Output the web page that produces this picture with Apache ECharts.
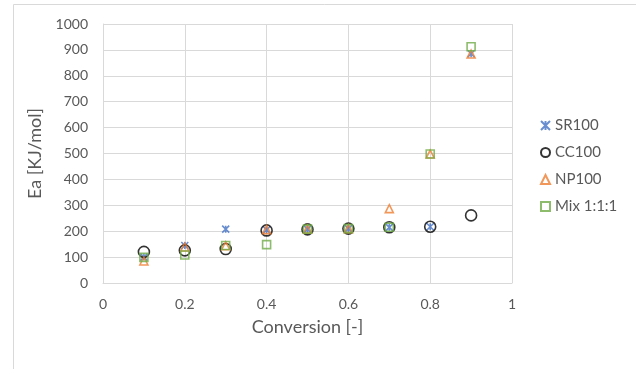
<!DOCTYPE html>
<html><head><meta charset="utf-8">
<script src="https://cdn.jsdelivr.net/npm/echarts@6/dist/echarts.min.js"></script>
<style>html,body{margin:0;padding:0;background:#fff}#c{width:636px;height:369px}</style>
</head><body><div id="c"></div>
<script>
const conversion = [0.1, 0.2, 0.3, 0.4, 0.5, 0.6, 0.7, 0.8, 0.9];
const sr100 = [100, 145, 208, 205, 208, 210, 215, 217, 885];
const cc100 = [120, 126, 131, 203, 207, 210, 215, 217, 261];
const np100 = [85, 139, 144, 206, 208, 210, 287, 498, 884];
const mix111 = [99, 108, 145, 148, 208, 210, 215, 498, 912];
const seriesNames = ['SR100', 'CC100', 'NP100', 'Mix 1:1:1'];
const xTicks = [0, 0.2, 0.4, 0.6, 0.8, 1];
const yTicks = [0, 100, 200, 300, 400, 500, 600, 700, 800, 900, 1000];

const pair = arr => conversion.map((x, i) => [x, arr[i]]);
const txt = '#595959', grid = '#d9d9d9';
const font = 'Lato, "Open Sans", sans-serif';
const chart = echarts.init(document.getElementById('c'));
chart.setOption({
  animation: false,
  textStyle: { fontFamily: font },
  graphic: [
    { type: 'line', shape: { x1: 13.5, y1: 4.5, x2: 636, y2: 4.5 }, style: { stroke: grid, lineWidth: 1 } },
    { type: 'line', shape: { x1: 13.5, y1: 4.5, x2: 13.5, y2: 369 }, style: { stroke: grid, lineWidth: 1 } }
  ],
  grid: { left: 103, right: 124, top: 24, bottom: 86 },
  legend: {
    orient: 'vertical', left: 535, top: 113, itemGap: 12, itemWidth: 9, itemHeight: 9,
    data: seriesNames,
    textStyle: { color: txt, fontSize: 15, fontFamily: font }
  },
  xAxis: {
    type: 'value', min: 0, max: 1, interval: 0.2,
    name: 'Conversion [-]', nameLocation: 'middle', nameGap: 35,
    nameTextStyle: { color: txt, fontSize: 18, fontFamily: font },
    axisLine: { show: true, lineStyle: { color: grid } },
    axisTick: { show: false },
    splitLine: { show: true, lineStyle: { color: grid } },
    axisLabel: { color: txt, fontSize: 14, margin: 14, formatter: v => String(Math.round(v * 10) / 10) }
  },
  yAxis: {
    type: 'value', min: 0, max: 1000, interval: 100,
    name: 'Ea [KJ/mol]', nameLocation: 'middle', nameGap: 55,
    nameTextStyle: { color: txt, fontSize: 18, fontFamily: font },
    axisLine: { show: true, lineStyle: { color: grid } },
    axisTick: { show: false },
    splitLine: { show: true, lineStyle: { color: grid } },
    axisLabel: { color: txt, fontSize: 14, margin: 15, formatter: v => String(v) }
  },
  series: [
    { name: seriesNames[0], type: 'scatter', data: pair(sr100),
      symbol: 'path://M0,0L10,10M10,0L0,10M5,0L5,10', symbolSize: 7,
      itemStyle: { color: 'rgba(0,0,0,0)', borderColor: '#4472C4', borderWidth: 1.6 } },
    { name: seriesNames[1], type: 'scatter', data: pair(cc100),
      symbol: 'circle', symbolSize: 11,
      itemStyle: { color: 'rgba(0,0,0,0)', borderColor: '#000000', borderWidth: 1.6 } },
    { name: seriesNames[2], type: 'scatter', data: pair(np100),
      symbol: 'triangle', symbolSize: 8,
      itemStyle: { color: 'rgba(0,0,0,0)', borderColor: '#ED7D31', borderWidth: 1.6 } },
    { name: seriesNames[3], type: 'scatter', data: pair(mix111),
      symbol: 'rect', symbolSize: 8,
      itemStyle: { color: 'rgba(0,0,0,0)', borderColor: '#70AD47', borderWidth: 1.6 } }
  ]
});
</script></body></html>
